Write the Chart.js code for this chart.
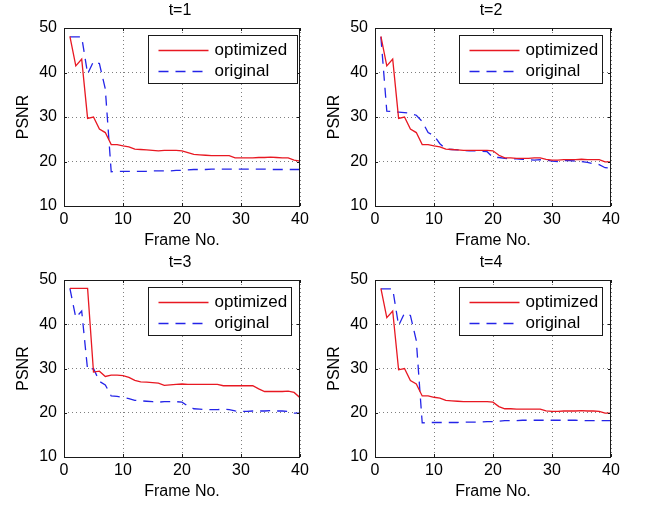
<!DOCTYPE html>
<html>
<head>
<meta charset="utf-8">
<script src="https://cdn.jsdelivr.net/npm/chart.js@4.4.1/dist/chart.umd.min.js"></script>
<style>
  html, body { margin: 0; padding: 0; background: #fff; }
  body { width: 647px; height: 506px; position: relative; overflow: hidden; }
  canvas { position: absolute; }
</style>
</head>
<body>
<canvas id="p1" width="323" height="253" style="left:0px;top:0px"></canvas>
<canvas id="p2" width="323" height="253" style="left:311px;top:0px"></canvas>
<canvas id="p3" width="323" height="252" style="left:0px;top:252px"></canvas>
<canvas id="p4" width="323" height="252" style="left:311px;top:252px"></canvas>
<script>
// numéros de frame (axe x)
const frames = [1, 2, 3, 4, 5, 6, 7, 8, 9, 10, 11, 12, 13, 14, 15, 16, 17, 18, 19, 20,
                21, 22, 23, 24, 25, 26, 27, 28, 29, 30, 31, 32, 33, 34, 35, 36, 37, 38, 39, 40];

const seriesNames = ['optimized', 'original'];
const panelTitles = ['t=1', 't=2', 't=3', 't=4'];

// t=1
const t1Optimized = [48.1, 41.5, 43.0, 29.7, 30.0, 27.3, 26.5, 23.8, 23.8, 23.5, 23.3, 22.8, 22.7, 22.6, 22.5, 22.4, 22.5, 22.5, 22.5, 22.4,
                     22.0, 21.6, 21.5, 21.4, 21.3, 21.3, 21.3, 21.3, 20.8, 20.8, 20.8, 20.8, 20.9, 20.9, 21.0, 20.9, 20.8, 20.8, 20.3, 20.1];
const t1Original  = [48.0, 48.0, 48.0, 39.7, 42.5, 42.0, 36.3, 17.7, 17.8, 17.8, 17.8, 17.8, 17.8, 17.8, 17.9, 17.9, 17.9, 17.9, 18.0, 18.0,
                     18.1, 18.2, 18.2, 18.2, 18.3, 18.3, 18.3, 18.3, 18.3, 18.3, 18.3, 18.3, 18.3, 18.3, 18.2, 18.2, 18.2, 18.2, 18.2, 18.2];
// t=2
const t2Optimized = [48.1, 41.5, 43.0, 29.7, 30.0, 27.3, 26.5, 23.8, 23.8, 23.5, 23.3, 22.8, 22.7, 22.6, 22.5, 22.5, 22.5, 22.5, 22.5, 22.4,
                     21.4, 20.8, 20.8, 20.7, 20.7, 20.7, 20.8, 20.8, 20.5, 20.3, 20.3, 20.4, 20.4, 20.4, 20.5, 20.4, 20.4, 20.4, 19.9, 19.9];
const t2Original  = [48.0, 31.3, 31.2, 31.1, 31.0, 30.8, 30.4, 29.0, 26.5, 25.8, 24.0, 22.8, 22.7, 22.6, 22.5, 22.4, 22.4, 22.3, 22.2, 20.9,
                     20.9, 20.7, 20.6, 20.6, 20.5, 20.4, 20.3, 20.4, 20.3, 20.1, 20.0, 20.2, 20.2, 20.1, 20.0, 19.8, 19.5, 19.3, 18.6, 18.5];
// t=3
const t3Optimized = [48.1, 48.1, 48.1, 48.1, 29.2, 29.4, 28.2, 28.5, 28.5, 28.4, 28.0, 27.3, 27.0, 26.9, 26.8, 26.7, 26.2, 26.3, 26.4, 26.5,
                     26.4, 26.4, 26.4, 26.4, 26.4, 26.4, 26.1, 26.1, 26.1, 26.1, 26.1, 26.1, 25.4, 24.8, 24.8, 24.8, 24.8, 24.9, 24.6, 23.4];
const t3Original  = [48.1, 41.5, 43.0, 29.7, 30.0, 27.1, 26.3, 23.8, 23.7, 23.5, 23.2, 22.8, 22.7, 22.6, 22.5, 22.4, 22.5, 22.5, 22.5, 22.4,
                     21.5, 20.9, 20.8, 20.7, 20.7, 20.7, 20.8, 20.7, 20.4, 20.3, 20.3, 20.4, 20.4, 20.4, 20.5, 20.4, 20.4, 20.3, 19.9, 19.9];
// t=4
const t4Optimized = [48.1, 41.5, 43.0, 29.7, 30.0, 27.3, 26.5, 23.8, 23.8, 23.5, 23.3, 22.8, 22.7, 22.6, 22.5, 22.5, 22.5, 22.5, 22.5, 22.4,
                     21.4, 20.9, 20.9, 20.8, 20.8, 20.8, 20.8, 20.8, 20.4, 20.3, 20.3, 20.4, 20.4, 20.4, 20.5, 20.4, 20.4, 20.3, 19.9, 19.9];
const t4Original  = [48.0, 48.0, 48.0, 39.7, 42.5, 42.0, 36.3, 17.7, 17.8, 17.8, 17.8, 17.8, 17.8, 17.8, 17.9, 17.9, 17.9, 17.9, 18.0, 18.0,
                     18.1, 18.2, 18.2, 18.2, 18.3, 18.3, 18.3, 18.3, 18.3, 18.3, 18.3, 18.3, 18.3, 18.3, 18.2, 18.2, 18.2, 18.2, 18.2, 18.2];

const RED = 'rgb(232, 24, 34)';
const BLUE = 'rgb(36, 36, 232)';

Chart.defaults.font.family = '"Liberation Sans", Arial, Helvetica, sans-serif';
Chart.defaults.color = '#000';

// cadre façon MATLAB : boîte, petites graduations, titre et légende encadrée
const matlabFrame = {
  id: 'matlabFrame',
  afterDatasetsDraw(chart, args, opts) {
    const ctx = chart.ctx;
    const a = chart.chartArea;
    const xs = chart.scales.x, ys = chart.scales.y;
    ctx.save();
    ctx.strokeStyle = '#1a1a1a';
    ctx.lineWidth = 1;
    ctx.setLineDash([]);
    ctx.beginPath();
    xs.ticks.forEach(t => {
      const px = Math.round(xs.getPixelForValue(t.value)) + 0.5;
      ctx.moveTo(px, a.bottom); ctx.lineTo(px, a.bottom - 3);
      ctx.moveTo(px, a.top); ctx.lineTo(px, a.top + 3);
    });
    ys.ticks.forEach(t => {
      const py = Math.round(ys.getPixelForValue(t.value)) + 0.5;
      ctx.moveTo(a.left, py); ctx.lineTo(a.left + 3, py);
      ctx.moveTo(a.right, py); ctx.lineTo(a.right - 3, py);
    });
    ctx.stroke();
    ctx.strokeRect(Math.round(a.left) + 0.5, Math.round(a.top) + 0.5, Math.round(a.width) - 1, Math.round(a.height));

    // légende
    const lx = Math.round(a.left + 84) + 0.5;
    const ly = Math.round(a.top + 7) + 0.5;
    ctx.fillStyle = '#fff';
    ctx.fillRect(lx, ly, opts.legendWidth, 48);
    ctx.strokeRect(lx, ly, opts.legendWidth, 48);
    ctx.font = '17px "Liberation Sans", Arial, sans-serif';
    ctx.textAlign = 'left';
    ctx.textBaseline = 'middle';
    chart.data.datasets.forEach((ds, i) => {
      const yy = ly + 15 + i * 21;
      ctx.strokeStyle = ds.borderColor;
      ctx.lineWidth = ds.borderWidth;
      ctx.setLineDash(ds.borderDash || []);
      ctx.beginPath();
      ctx.moveTo(lx + 10, yy);
      ctx.lineTo(lx + 60, yy);
      ctx.stroke();
      ctx.fillStyle = '#000';
      ctx.fillText(ds.label, lx + 66, yy);
    });

    // titre du panneau
    ctx.setLineDash([]);
    ctx.font = '16px "Liberation Sans", Arial, sans-serif';
    ctx.textAlign = 'center';
    ctx.fillStyle = '#000';
    ctx.fillText(opts.title, (a.left + a.right) / 2 - 2, 11);
    ctx.restore();
  }
};

function makePanel(id, title, optimized, original, legendWidth) {
  const ctx = document.getElementById(id).getContext('2d');
  new Chart(ctx, {
    type: 'line',
    data: {
      labels: frames,
      datasets: [{
        label: seriesNames[0],
        data: optimized,
        borderColor: RED,
        borderWidth: 1.3,
        pointRadius: 0,
        tension: 0,
        fill: false
      }, {
        label: seriesNames[1],
        data: original,
        borderColor: BLUE,
        borderWidth: 1.3,
        borderDash: [10, 7],
        pointRadius: 0,
        tension: 0,
        fill: false
      }]
    },
    options: {
      responsive: false,
      animation: false,
      events: [],
      layout: { padding: { top: 28, right: 23, left: 0, bottom: 0 } },
      plugins: {
        legend: { display: false },
        tooltip: { enabled: false },
        matlabFrame: { title: title, legendWidth: legendWidth }
      },
      scales: {
        x: {
          type: 'linear',
          min: 0,
          max: 40,
          ticks: { stepSize: 10, padding: 4, font: { size: 16 }, color: '#000' },
          grid: { color: 'rgba(0,0,0,0.5)', lineWidth: 1, drawTicks: false },
          border: { display: false, dash: [1, 3] },
          title: { display: true, text: 'Frame No.', font: { size: 16 }, color: '#000', padding: { top: 0, bottom: 2.5 } },
          afterFit: (scale) => { scale.height = 47; }
        },
        y: {
          min: 10,
          max: 50,
          ticks: { stepSize: 10, padding: 7, font: { size: 16 }, color: '#000' },
          grid: { color: 'rgba(0,0,0,0.5)', lineWidth: 1, drawTicks: false },
          border: { display: false, dash: [1, 3] },
          title: { display: true, text: 'PSNR', font: { size: 16 }, color: '#000', padding: { top: 13.5, bottom: 0 } },
          afterFit: (scale) => { scale.width = 64; }
        }
      }
    },
    plugins: [matlabFrame]
  });
}

makePanel('p1', panelTitles[0], t1Optimized, t1Original, 149);
makePanel('p2', panelTitles[1], t2Optimized, t2Original, 143);
makePanel('p3', panelTitles[2], t3Optimized, t3Original, 143);
makePanel('p4', panelTitles[3], t4Optimized, t4Original, 143);
</script>
</body>
</html>
